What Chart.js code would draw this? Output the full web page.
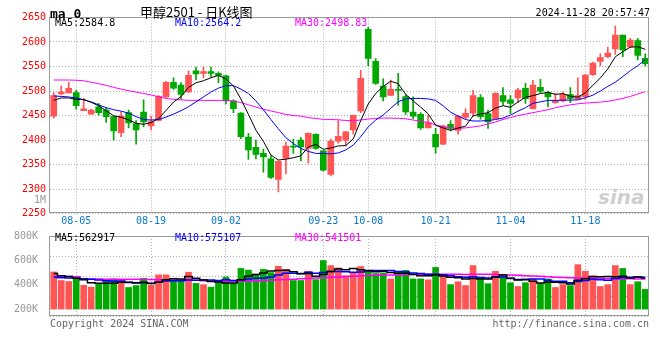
<!DOCTYPE html>
<html><head><meta charset="utf-8">
<script src="https://cdn.jsdelivr.net/npm/chart.js@4.4.1/dist/chart.umd.min.js"></script>
<style>
html,body{margin:0;padding:0;background:#fff;width:660px;height:360px;overflow:hidden;}
body{position:relative;font-family:"DejaVu Sans Mono",monospace;}
canvas{position:absolute;left:0;}
#c1{top:0;}
#c2{top:226px;}
.t{position:absolute;white-space:nowrap;font-size:10px;line-height:12px;}
</style></head><body>
<canvas id="c1" width="660" height="232"></canvas>
<canvas id="c2" width="660" height="100"></canvas>
<div class="t" style="left:50px;top:6px;font-size:13px;font-weight:bold;line-height:16px;">ma 0</div>
<div class="t" style="left:140px;top:4px;font-family:'Noto Sans CJK SC';font-size:13px;line-height:16px;">甲醇2501 - 日K线图</div>
<div class="t" style="right:10px;top:7px;">2024-11-28 20:57:47</div>
<div class="t" id="m5" style="left:55px;top:17px;color:#000;"></div>
<div class="t" id="m10" style="left:175px;top:17px;color:#0000ff;"></div>
<div class="t" id="m30" style="left:295px;top:17px;color:#ff00ff;"></div>
<div class="t" id="v5" style="left:55px;top:232px;color:#000;"></div>
<div class="t" id="v10" style="left:175px;top:232px;color:#0000ff;"></div>
<div class="t" id="v30" style="left:295px;top:232px;color:#ff00ff;"></div>
<div class="t" style="right:614px;top:194px;color:#999;">1M</div>
<div class="t" style="left:50px;top:318px;color:#666;">Copyright 2024 SINA.COM</div>
<div class="t" style="right:11px;top:318px;color:#666;">http://finance.sina.com.cn</div>
<div class="t" style="left:598px;top:186px;font-family:'DejaVu Sans';font-size:20px;line-height:22px;font-weight:bold;font-style:italic;color:rgba(190,190,190,0.75);">sina</div>
<script>
const dates = ['07-31','08-01','08-02','08-05','08-06','08-07','08-08','08-09','08-12','08-13','08-14','08-15','08-16','08-19','08-20','08-21','08-22','08-23','08-26','08-27','08-28','08-29','08-30','09-02','09-03','09-04','09-05','09-06','09-09','09-10','09-11','09-12','09-13','09-18','09-19','09-20','09-23','09-24','09-25','09-26','09-27','09-30','10-08','10-09','10-10','10-11','10-14','10-15','10-16','10-17','10-18','10-21','10-22','10-23','10-24','10-25','10-28','10-29','10-30','10-31','11-01','11-04','11-05','11-06','11-07','11-08','11-11','11-12','11-13','11-14','11-15','11-18','11-19','11-20','11-21','11-22','11-25','11-26','11-27','11-28'];
const dateTicks = ['08-05','08-19','09-02','09-23','10-08','10-21','11-04','11-18'];

const opens  = [2449,2494,2496,2497,2460,2453,2468,2461,2448,2415,2456,2434,2457,2429,2440,2488,2518,2512,2498,2541,2536,2539.5,2536,2531,2480,2455,2406.5,2385.5,2373,2362,2320,2363,2388,2400,2383,2412,2378,2330,2398,2400,2421,2459.4,2625.6,2560.5,2510,2491,2503.5,2488.6,2457.4,2452.6,2424.8,2412,2391.6,2432,2420,2446.5,2454.7,2486.6,2454,2444,2491,2482,2486,2505.6,2464,2507.6,2496.7,2476.4,2479.8,2492.7,2483,2488.6,2533.4,2560.5,2570,2586,2614,2589.7,2603,2566.6];
const highs  = [2497,2510,2518,2501.5,2484.5,2463,2475,2466,2449,2457,2461,2440,2482,2449,2491,2520,2527,2517,2541,2549,2549,2549,2539,2532,2482,2456,2414,2400,2382,2368,2358,2396,2402,2405,2415,2413,2379,2402,2440,2418,2451,2542,2629.7,2566,2525,2522.5,2536,2493,2488,2456,2450.6,2424,2430,2440,2450.6,2464,2501.5,2493,2461,2497,2507,2491,2505.6,2515.7,2522,2524,2500,2495.4,2498,2507,2527,2534,2559,2576,2589.7,2632.4,2614,2607.3,2607.3,2576];
const lows   = [2445,2492,2496,2463,2460,2453,2450.6,2436,2400,2407,2425,2392,2427.5,2421,2439,2487,2503.5,2483,2497,2522.5,2527,2529,2517,2474,2456,2403,2361,2362,2335,2322,2294.5,2331,2373,2357.6,2353,2381,2337,2327,2393.6,2388,2412,2456,2551,2513.7,2480,2491,2471,2452.6,2444,2422,2424.8,2373,2391,2418.7,2412,2442.5,2449,2442.5,2424,2442.5,2471.6,2454,2477,2475,2463,2496.7,2468,2475,2477.7,2476.4,2483,2483,2532,2551,2568,2574.8,2570,2588.3,2563.2,2551];
const closes = [2491,2498,2505.6,2470,2464,2461,2456,2448,2419,2449,2435,2421,2437,2438,2489,2518,2506,2493,2532,2535,2539.5,2536,2532,2480,2464,2407,2380,2371,2366,2324,2357,2388,2385.5,2386,2414,2383,2339,2397.7,2408,2417,2450.6,2526,2566.6,2515.7,2488,2503.5,2501.5,2457.4,2449,2424.8,2435.7,2386,2429,2424,2449,2454.7,2491,2448,2437,2495.4,2479,2475,2502,2484.5,2512.3,2500,2488,2481,2493.3,2484.5,2490.6,2532.7,2557,2568,2577.5,2614,2583.6,2604,2572.7,2555.8];

const ma5  = [2481,2486,2486,2483,2483,2477,2470,2459.8,2449.6,2446.6,2441.4,2434.4,2432.2,2436,2444,2460.6,2477.6,2488.8,2507.6,2516.8,2521.1,2527.1,2532,2524.5,2510.3,2483.8,2452.6,2420.4,2397.6,2369.6,2359.6,2361.2,2364.1,2368.1,2386.1,2391.3,2381.5,2383.9,2388.3,2388.9,2402.5,2439.9,2473.6,2495.2,2509.4,2520,2515.1,2493.2,2479.9,2467.2,2453.7,2430.6,2424.9,2419.9,2424.7,2428.5,2449.5,2453.3,2455.9,2465.2,2470.1,2466.9,2477.7,2487.2,2490.6,2494.8,2497.4,2493.2,2494.9,2489.4,2487.5,2496.4,2511.6,2526.6,2545.2,2569.8,2580,2589.4,2590.4,2584.8];
const ma10 = [2490,2489,2488,2486,2482,2478,2472,2466,2462,2459,2455,2448,2442,2441,2442,2447,2453,2460,2468,2478,2488,2498,2506,2511,2511,2504,2495,2480,2462,2442,2423,2405,2393,2383,2377,2373,2373,2372,2374,2380,2390,2407,2427,2441,2451,2465,2478,2484,2485,2485,2484,2481,2470,2457,2449,2442,2439,2439,2440,2442,2445,2451,2459,2466,2475,2478,2481,2481,2481.5,2481.5,2482,2486.5,2491.5,2500,2509.5,2518,2529.5,2541.5,2551.5,2564.2];
const ma30 = [2522.5,2522.5,2522.5,2522,2521,2518,2515,2511.6,2507.5,2504,2500.7,2498,2495,2492,2488.5,2485,2483,2482,2481,2481,2481,2481,2481,2481,2479.5,2476.5,2472,2467.5,2463,2459.5,2456,2452.5,2450,2449,2446,2444,2442.5,2442,2441.5,2440,2439.5,2441,2443,2444,2445,2445,2444.5,2443.5,2441,2438.5,2436,2431,2427,2425,2424,2425,2427,2429,2433,2437,2442,2446,2450,2453,2456,2459,2462,2466,2469,2472,2474,2475.5,2476.5,2477.5,2479,2482,2485,2489,2494,2498.83];

const volume = [671000,516000,499000,538000,430000,396000,464000,504000,545000,511000,390000,425000,556000,430000,619000,619000,521000,521000,666000,464000,442000,396000,482000,580000,464000,734000,705000,631000,717000,659000,774000,717000,516000,516000,683000,533000,877000,786000,745000,602000,659000,769000,700000,642000,654000,545000,683000,700000,545000,545000,528000,752000,614000,442000,494000,425000,786000,562000,459000,683000,597000,476000,408000,476000,545000,459000,545000,390000,442000,425000,803000,683000,597000,408000,442000,786000,734000,442000,494000,356000];
const vma5  = [642000,600000,590000,556000,531000,476000,466000,466000,468000,483000,483000,475000,485000,463000,483000,530000,549000,542000,590000,559000,523000,497000,490000,473000,473000,531000,593000,623000,650000,690000,697000,700000,676000,636000,642000,593000,624000,679000,724000,709000,734000,712000,695000,674000,685000,662000,645000,645000,626000,604000,600000,614000,597000,576000,566000,545000,552000,542000,545000,583000,617000,556000,525000,528000,501000,473000,487000,483000,476000,452000,521000,549000,590000,583000,587000,583000,593000,562000,580000,562917];
const vma10 = [573000,568000,561000,556000,550000,537000,525000,513000,504000,507000,480000,470000,476000,465000,483000,507000,512000,513000,526000,521000,526000,523000,516000,531000,516000,527000,545000,556000,562000,581000,614000,647000,649000,643000,666000,645000,662000,678000,680000,675000,664000,668000,687000,699000,697000,698000,679000,670000,650000,644000,631000,630000,621000,601000,585000,573000,583000,569000,561000,574000,581000,554000,533000,537000,542000,545000,521000,504000,502000,476000,497000,518000,537000,530000,519000,552000,571000,576000,581000,575107];
const vma30 = [590000,590000,588000,585000,550000,542000,542000,540000,538000,538000,537000,537000,535000,533000,530000,526000,525000,523000,521000,519000,512000,508000,504000,502000,502000,504000,508000,511000,516000,522000,528000,535000,540000,547000,554000,560000,567000,573000,580000,587000,594000,600000,605000,610000,614000,617000,621000,624000,628000,631000,631000,631000,631000,629000,628000,626000,628000,628000,628000,626000,622000,617000,611000,604000,598000,591000,584000,577000,570000,565000,562000,561000,559000,556000,552000,550000,549000,547000,545000,541501];
const volTicks = [200000,400000,600000,800000];
const priceMin = 2250, priceMax = 2650, priceStep = 50;

const RED = '#ff5555', GREEN = '#00a800', GRID = '#b0b0b0', FRAME = '#999999';
const MONO = {family:'DejaVu Sans Mono', size:10};
const up = closes.map((c,i)=> c >= opens[i]);
const colors = up.map(u => u ? RED : GREEN);
const tickIdx = new Set(dateTicks.map(d => dates.indexOf(d)));

const last = a => a[a.length-1];
document.getElementById('m5').textContent = 'MA5:' + last(ma5);
document.getElementById('m10').textContent = 'MA10:' + last(ma10);
document.getElementById('m30').textContent = 'MA30:' + last(ma30);
document.getElementById('v5').textContent = 'MA5:' + last(vma5);
document.getElementById('v10').textContent = 'MA10:' + last(vma10);
document.getElementById('v30').textContent = 'MA30:' + last(vma30);

const frame = {
  id:'frame',
  afterDatasetsDraw(chart){
    const a = chart.chartArea, ctx = chart.ctx;
    ctx.save(); ctx.strokeStyle = FRAME; ctx.lineWidth = 1;
    ctx.strokeRect(Math.round(a.left)-0.5, Math.round(a.top)+0.5, Math.round(a.right-a.left), Math.round(a.bottom-a.top)-1);
    ctx.restore();
  }
};
const line = (data, color, w, stepped) => ({type:'line', data, borderColor:color, borderWidth:w, pointRadius:0, tension:0, stepped: stepped||false, order:0, fill:false});
const xGrid = {offset:false, drawTicks:false, color: c => tickIdx.has(c.index) ? GRID : 'rgba(0,0,0,0)', lineWidth:1};

new Chart(document.getElementById('c1'), {
  type:'bar',
  data:{labels:dates, datasets:[
    line(ma5,'#000000',1), line(ma10,'#0000ff',1), line(ma30,'#ff00ff',1),
    {data: opens.map((o,i)=>[o, closes[i]]), backgroundColor: colors, barThickness:6, grouped:false, minBarLength:1, order:1},
    {data: lows.map((l,i)=>[l, highs[i]]), backgroundColor: colors, barThickness:1, grouped:false, order:2}
  ]},
  options:{
    responsive:false, animation:false, devicePixelRatio:1,
    layout:{padding:{top:17.4, right:11, left:0, bottom:0}},
    plugins:{legend:{display:false}, tooltip:{enabled:false}},
    scales:{
      x:{type:'category', offset:true, grid:xGrid, border:{display:false, dash:[1,2]},
         ticks:{autoSkip:false, maxRotation:0, padding:2, color:'#0a78d0', font:MONO,
                callback:(v,i)=> tickIdx.has(i) ? dates[i] : ''},
         afterFit: s => { s.height = 18.2; }},
      y:{min:priceMin, max:priceMax, grid:{drawTicks:false, color:GRID}, border:{display:false, dash:[1,2]},
         ticks:{stepSize:priceStep, color:'#ff0000', padding:4, font:MONO, callback: v => String(v)},
         afterFit: s => { s.width = 50; }}
    }
  },
  plugins:[frame]
});

new Chart(document.getElementById('c2'), {
  type:'bar',
  data:{labels:dates, datasets:[
    line(vma5,'#000000',1.5,'middle'), line(vma10,'#0000ff',1.5,'middle'), line(vma30,'#ff00ff',1.5,'middle'),
    {data: volume, backgroundColor: colors, barThickness:6, order:1, yAxisID:'y'}
  ]},
  options:{
    responsive:false, animation:false, devicePixelRatio:1,
    layout:{padding:{top:8, right:11, left:0, bottom:8}},
    plugins:{legend:{display:false}, tooltip:{enabled:false}},
    scales:{
      x:{type:'category', offset:true, grid:xGrid, border:{display:false, dash:[1,2]},
         ticks:{display:false}, afterFit: s => { s.height = 0; }},
      y:{position:'left', min:-125000, max:1320000, grid:{drawTicks:false, color:GRID}, border:{display:false, dash:[1,2]},
         ticks:{display:false},
         afterBuildTicks: s => { s.ticks = [0,1,2,3,4].map(k => ({value: s.min + k*(s.max - s.min)/4})); },
         afterFit: s => { s.width = 0; }},
      yl:{position:'left', min:145500, max:800000, grid:{display:false}, border:{display:false},
         ticks:{color:'#999999', padding:4, font:MONO, callback: v => (v/1000) + 'K'},
         afterBuildTicks: s => { s.ticks = volTicks.map(v => ({value:v})); },
         afterFit: s => { s.width = 50; }}
    }
  },
  plugins:[frame]
});
</script>
</body></html>
